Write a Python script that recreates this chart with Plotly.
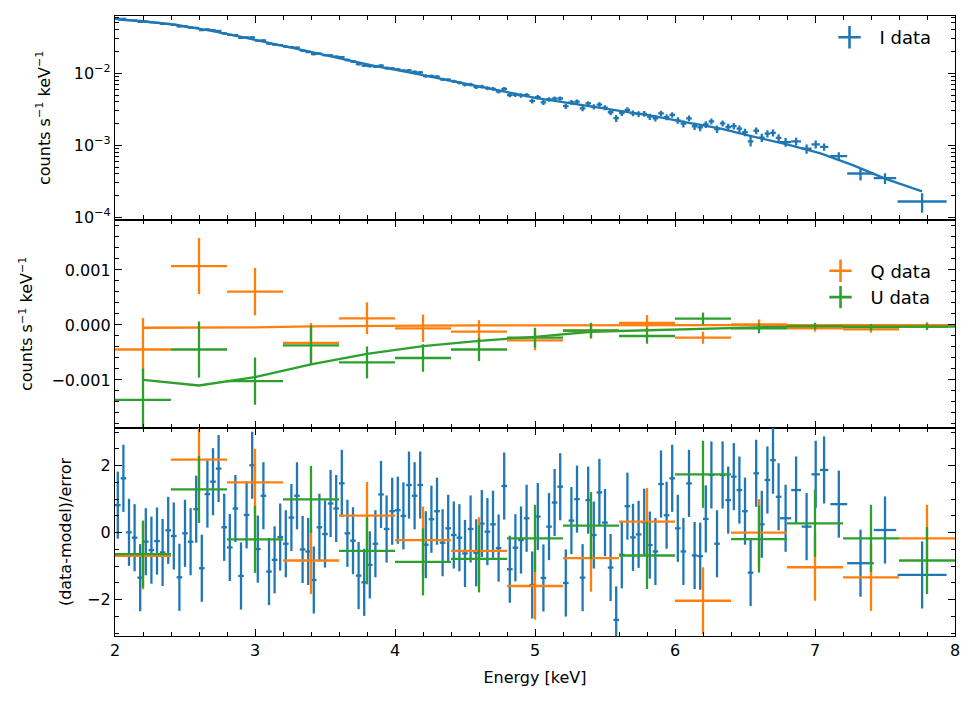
import numpy as np
import plotly.graph_objects as go

BLUE = "#1f77b4"
ORANGE = "#ff7f0e"
GREEN = "#2ca02c"

# --- I spectrum: 0.04 keV bins up to 6.76 keV, then wider bins ---
E_I = list(np.round(np.arange(2.02, 6.75, 0.04), 3)) + [6.79, 6.865, 6.94, 7.005, 7.065, 7.17, 7.325, 7.50, 7.765]
E_I_hw = [0.02] * 119 + [0.04, 0.035, 0.035, 0.03, 0.03, 0.06, 0.095, 0.08, 0.175]

I_data = [
    0.05685, 0.05713, 0.05471, 0.05393, 0.05201, 0.05235, 0.05099, 0.05021, 0.04879, 0.04845,
    0.04727, 0.04480, 0.04476, 0.04318, 0.04284, 0.03986, 0.04077, 0.03981, 0.03884, 0.03592,
    0.03415, 0.03397, 0.03108, 0.03149, 0.03158, 0.02842, 0.02864, 0.02584, 0.02515, 0.02467,
    0.02353, 0.02314, 0.02267, 0.02066, 0.01978, 0.01843, 0.01874, 0.01788, 0.01777, 0.01701,
    0.01682, 0.01531, 0.01460, 0.01345, 0.01281, 0.01259, 0.01244, 0.01279, 0.01185, 0.01173,
    0.01137, 0.01092, 0.01101, 0.01050, 0.01030, 0.009139, 0.009171, 0.008970, 0.008257, 0.008139,
    0.007749, 0.007424, 0.006951, 0.006976, 0.006433, 0.006538, 0.006220, 0.006084, 0.005613, 0.006077,
    0.004999, 0.005037, 0.004936, 0.004978, 0.004150, 0.004664, 0.003961, 0.004331, 0.004439, 0.004470,
    0.003493, 0.003949, 0.004035, 0.003254, 0.003823, 0.003425, 0.003681, 0.003335, 0.002881, 0.002380,
    0.002812, 0.003107, 0.002785, 0.002729, 0.002742, 0.002500, 0.002379, 0.002773, 0.002469, 0.002641,
    0.002223, 0.001996, 0.002370, 0.001841, 0.001776, 0.001949, 0.002157, 0.001683, 0.002022, 0.001796,
    0.001853, 0.001705, 0.001522, 0.001136, 0.001593, 0.001280, 0.001450, 0.001492, 0.001267,
    0.001110, 0.001133, 0.000896, 0.001034, 0.000949, 0.000706, 0.000406, 0.000350, 0.000166,
]
I_err = [
    0.001135, 0.001129, 0.001123, 0.001116, 0.001110, 0.001101, 0.001090, 0.001078, 0.001067, 0.001056,
    0.001045, 0.001031, 0.001016, 0.001001, 0.000985, 0.000971, 0.000956, 0.000940, 0.000924, 0.000908,
    0.000892, 0.000876, 0.000861, 0.000846, 0.000830, 0.000815, 0.000800, 0.000785, 0.000771, 0.000755,
    0.000740, 0.000725, 0.000710, 0.000696, 0.000682, 0.000668, 0.000655, 0.000642, 0.000630, 0.000618,
    0.000606, 0.000594, 0.000583, 0.000572, 0.000561, 0.000550, 0.000539, 0.000530, 0.000521, 0.000513,
    0.000504, 0.000496, 0.000488, 0.000479, 0.000471, 0.000463, 0.000455, 0.000447, 0.000440, 0.000432,
    0.000423, 0.000415, 0.000407, 0.000400, 0.000392, 0.000385, 0.000378, 0.000372, 0.000365, 0.000359,
    0.000352, 0.000346, 0.000340, 0.000334, 0.000328, 0.000322, 0.000318, 0.000314, 0.000310, 0.000306,
    0.000301, 0.000298, 0.000294, 0.000290, 0.000286, 0.000282, 0.000278, 0.000274, 0.000270, 0.000266,
    0.000262, 0.000259, 0.000255, 0.000251, 0.000248, 0.000244, 0.000241, 0.000237, 0.000233, 0.000229,
    0.000225, 0.000221, 0.000217, 0.000214, 0.000211, 0.000207, 0.000204, 0.000201, 0.000197, 0.000193,
    0.000188, 0.000184, 0.000180, 0.000176, 0.000172, 0.000169, 0.000166, 0.000162, 0.000159,
    0.000156, 0.000140, 0.000130, 0.000130, 0.000110, 0.000094, 0.000080, 0.000059, 0.000050,
]
I_resid = [
    0.82, 1.62, 0.01, -0.15, -1.34, -0.27, -0.52, -0.25, -0.59, 0.07,
    -0.10, -1.33, -0.02, -0.27, 0.70, -1.06, 1.15, 1.52, 1.91, 0.16,
    -0.44, 0.72, -1.29, 0.53, 2.01, -0.49, 1.10, -1.16, -0.81, -0.13,
    -0.33, 0.45, 1.10, -0.50, -0.56, -1.41, 0.16, -0.04, 0.87, 0.72,
    1.47, -0.02, -0.24, -1.28, -1.48, -0.96, -0.33, 1.14, 0.11, 0.64,
    0.67, 0.50, 1.42, 1.10, 1.42, -0.36, 0.40, 0.64, -0.30, 0.13,
    -0.07, -0.15, -0.62, 0.11, -0.60, 0.27, 0.03, 0.25, -0.46, 1.39,
    -1.09, -0.45, -0.22, 0.43, -1.56, 0.48, -1.35, 0.18, 0.90, 1.37,
    -1.50, 0.36, 1.00, -1.34, 0.97, -0.07, 1.20, 0.30, -1.04, -2.60,
    -0.66, 0.79, -0.14, -0.05, 0.31, -0.37, -0.56, 1.45, 0.52, 1.62,
    0.13, -0.56, 1.47, -0.68, -0.70, 0.41, 1.72, -0.33, 1.72, 0.97,
    1.67, 1.27, 0.64, -1.19, 1.77, 0.25, 1.57, 2.16, 1.07,
    0.43, 1.27, 0.18, 1.74, 1.87, 0.85, -0.91, 0.08, -1.26,
]

# I model curve
E_mod = [2.02, 2.2, 2.44, 2.68, 2.92, 3.16, 3.39, 3.63, 3.87, 4.11, 4.35, 4.58, 4.82,
         5.01, 5.13, 5.37, 5.61, 5.85, 6.08, 6.32, 6.56, 6.80, 7.04, 7.27, 7.51, 7.765]
I_mod = [0.05592, 0.05321, 0.04688, 0.03908, 0.03162, 0.02529, 0.01995, 0.01578, 0.01250,
         0.01023, 0.00832, 0.00667, 0.00538, 0.00454, 0.00419, 0.00357, 0.00301, 0.00254,
         0.00208, 0.00172, 0.00132, 0.00103, 0.000774, 0.000531, 0.000339, 0.000229]

# --- Q and U spectra: 0.4 keV bins ---
E_QU = [2.2, 2.6, 3.0, 3.4, 3.8, 4.2, 4.6, 5.0, 5.4, 5.8, 6.2, 6.6, 7.0, 7.4, 7.8]
E_QU_hw = [0.2] * 15
Q_data = [-0.000446, 0.00107, 0.000606, -0.000324, 0.000122, -0.00006, -0.000122, -0.00028,
          -0.000106, 0.00004, -0.00023, 0.00001, -0.00006, -0.00008, -0.00001]
U_data = [-0.00136, -0.000446, -0.00102, -0.00037, -0.00068, -0.0006, -0.000446, -0.00023,
          -0.0001, -0.0002, 0.000116, -0.00006, -0.00002, -0.00004, -0.00003]
QU_err = [0.00057, 0.00051, 0.00043, 0.00036, 0.00029, 0.00025, 0.00021, 0.00018,
          0.00014, 0.00014, 0.00011, 0.00009, 0.00006, 0.00006, 0.00006]
Q_resid = [-0.69, 2.18, 1.50, -0.83, 0.51, -0.22, -0.54, -1.59, -0.76, 0.33, -2.03, 0.00, -1.03, -1.33, -0.17]
U_resid = [-0.64, 1.29, -0.20, 0.99, -0.54, -0.87, -0.78, -0.17, 0.21, -0.68, 1.74, -0.19, 0.28, -0.17, -0.83]

E_QU_mod = E_QU + [7.95]
Q_mod = [-0.00005, -0.00005, -0.000043, -0.000024, -0.000012, -0.000012, -0.000006, -0.000002,
         -0.000002, -0.000002, -0.000002, -0.000002, -0.000002, -0.000002, -0.000002, -0.000002]
U_mod = [-0.000996, -0.0011, -0.00095, -0.000716, -0.000527, -0.000385, -0.000288, -0.000215,
         -0.000123, -0.000092, -0.00006, -0.000042, -0.00003, -0.00003, -0.00003, -0.00003]

FONT = "DejaVu Sans"
LW = 2.3


def errbars(x, y, xerr, yerr, color, xa, ya):
    return go.Scatter(
        x=x, y=y, mode="markers", xaxis=xa, yaxis=ya, showlegend=False,
        marker=dict(size=2, color=color),
        error_x=dict(type="data", array=xerr, color=color, thickness=LW, width=0),
        error_y=dict(type="data", array=yerr, color=color, thickness=LW, width=0),
        hoverinfo="skip",
    )


def legend_proxy(name, color, legend, xa, ya):
    return go.Scatter(
        x=[None], y=[None], mode="markers", name=name, legend=legend, xaxis=xa, yaxis=ya,
        marker=dict(symbol="cross-thin", size=18, color=color, line=dict(width=2.6, color=color)),
    )


fig = go.Figure()

# top panel
fig.add_trace(go.Scatter(x=E_mod, y=I_mod, mode="lines", line=dict(color=BLUE, width=LW),
                         xaxis="x", yaxis="y", showlegend=False))
fig.add_trace(errbars(E_I, I_data, E_I_hw, I_err, BLUE, "x", "y"))
fig.add_trace(legend_proxy("I data", BLUE, "legend", "x", "y"))

# middle panel
fig.add_trace(go.Scatter(x=E_QU_mod, y=Q_mod, mode="lines", line=dict(color=ORANGE, width=LW),
                         xaxis="x2", yaxis="y2", showlegend=False))
fig.add_trace(go.Scatter(x=E_QU_mod, y=U_mod, mode="lines", line=dict(color=GREEN, width=LW),
                         xaxis="x2", yaxis="y2", showlegend=False))
fig.add_trace(errbars(E_QU, Q_data, E_QU_hw, QU_err, ORANGE, "x2", "y2"))
fig.add_trace(errbars(E_QU, U_data, E_QU_hw, QU_err, GREEN, "x2", "y2"))
fig.add_trace(legend_proxy("Q data", ORANGE, "legend2", "x2", "y2"))
fig.add_trace(legend_proxy("U data", GREEN, "legend2", "x2", "y2"))

# residual panel
fig.add_trace(errbars(E_I, I_resid, E_I_hw, [1.0] * len(I_resid), BLUE, "x3", "y3"))
fig.add_trace(errbars(E_QU, Q_resid, E_QU_hw, [1.0] * 15, ORANGE, "x3", "y3"))
fig.add_trace(errbars(E_QU, U_resid, E_QU_hw, [1.0] * 15, GREEN, "x3", "y3"))

axis_style = dict(
    showline=True, linecolor="black", linewidth=1.3, mirror="allticks",
    ticks="inside", ticklen=7, tickwidth=1.3, tickcolor="black",
    showgrid=False, zeroline=False,
    tickfont=dict(family=FONT, size=16, color="black"),
    title_font=dict(family=FONT, size=16, color="black"),
)
minor_style = dict(ticks="inside", ticklen=4, tickwidth=1, tickcolor="black", showgrid=False)

x_style = dict(axis_style, range=[2, 8], dtick=1, tick0=2, minor=dict(minor_style, dtick=0.2))

# the page body adds 8 px around the figure: plot area lands at x 115..955, y 16..636
H_AREA = 620
d_bot = [0, (636 - 428) / H_AREA]
d_mid = [d_bot[1], (636 - 219.5) / H_AREA]
d_top = [d_mid[1], 1]

log_minor = [m * 10.0 ** p for p in range(-5, -1) for m in range(2, 10)]

fig.update_layout(
    width=965, height=693,
    margin=dict(l=107, r=18, t=8, b=65),
    paper_bgcolor="white", plot_bgcolor="white",
    font=dict(family=FONT, size=16, color="black"),
    xaxis=dict(x_style, anchor="y", domain=[0, 1], showticklabels=False, matches="x3"),
    xaxis2=dict(x_style, anchor="y2", domain=[0, 1], showticklabels=False, matches="x3"),
    xaxis3=dict(x_style, anchor="y3", domain=[0, 1], title=dict(text="Energy [keV]", standoff=12)),
    yaxis=dict(
        axis_style, domain=d_top, anchor="x", type="log", range=[-4.03, -1.204],
        tickmode="array", tickvals=[1e-4, 1e-3, 1e-2],
        ticktext=["10<sup>\u22124</sup>", "10<sup>\u22123</sup>", "10<sup>\u22122</sup>"],
        minor=dict(minor_style, tickmode="array", tickvals=log_minor),
        title=dict(text="counts s<sup>\u22121</sup> keV<sup>\u22121</sup>", standoff=19),
    ),
    yaxis2=dict(
        axis_style, domain=d_mid, anchor="x2", range=[-0.001873, 0.001918],
        tickmode="array", tickvals=[-0.001, 0, 0.001], ticktext=["\u22120.001", "0.000", "0.001"],
        minor=dict(minor_style, tickmode="linear", tick0=0, dtick=0.0002),
        title=dict(text="counts s<sup>\u22121</sup> keV<sup>\u22121</sup>", standoff=14),
    ),
    yaxis3=dict(
        axis_style, domain=d_bot, anchor="x3", range=[-3.08, 3.12],
        tickmode="array", tickvals=[-2, 0, 2], ticktext=["\u22122", "0", "2"],
        minor=dict(minor_style, tickmode="linear", tick0=0, dtick=0.5),
        title=dict(text="(data-model)/error", standoff=11),
    ),
    legend=dict(x=0.978, xanchor="right", y=0.995, yanchor="top", bgcolor="rgba(0,0,0,0)",
                font=dict(family=FONT, size=18), itemwidth=50),
    legend2=dict(x=0.978, xanchor="right", y=0.6185, yanchor="top", bgcolor="rgba(0,0,0,0)",
                 font=dict(family=FONT, size=18), itemwidth=50, tracegroupgap=0),
)

fig.write_html("out.html")
